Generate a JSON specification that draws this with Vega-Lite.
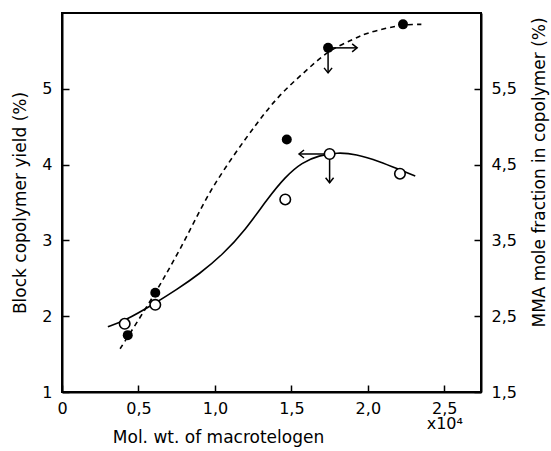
{
  "$schema": "https://vega.github.io/schema/vega-lite/v6.json",
  "width": 419,
  "height": 379,
  "autosize": {"type": "none"},
  "padding": {"left": 62, "top": 13, "right": 70, "bottom": 59},
  "background": "white",
  "config": {
    "view": {"stroke": "black", "strokeWidth": 2},
    "font": "DejaVu Sans",
    "axis": {
      "grid": false,
      "domainColor": "black",
      "domainWidth": 2,
      "tickColor": "black",
      "tickWidth": 1.5,
      "tickSize": -7,
      "labelColor": "black",
      "labelFontSize": 16,
      "labelFlush": false,
      "labelOverlap": false,
      "titleColor": "black",
      "titleFontSize": 17,
      "titleFontWeight": "normal"
    }
  },
  "datasets": {
    "yield_pts": [
      {"mw": 0.41, "yield": 1.9},
      {"mw": 0.61, "yield": 2.15},
      {"mw": 1.46, "yield": 3.54},
      {"mw": 1.75, "yield": 4.14},
      {"mw": 2.21, "yield": 3.88}
    ],
    "yield_curve": [
      {"mw": 0.3, "yield": 1.86},
      {"mw": 0.41, "yield": 1.94},
      {"mw": 0.6, "yield": 2.16},
      {"mw": 0.75, "yield": 2.35},
      {"mw": 0.9, "yield": 2.56},
      {"mw": 1.05, "yield": 2.81},
      {"mw": 1.2, "yield": 3.14},
      {"mw": 1.34, "yield": 3.54},
      {"mw": 1.46, "yield": 3.84},
      {"mw": 1.57, "yield": 4.03},
      {"mw": 1.68, "yield": 4.12},
      {"mw": 1.8, "yield": 4.16},
      {"mw": 1.92, "yield": 4.14},
      {"mw": 2.08, "yield": 4.04},
      {"mw": 2.21, "yield": 3.93},
      {"mw": 2.31, "yield": 3.85}
    ],
    "yield_arrows": [
      {"mw": 1.75, "yield": 4.14, "mw2": 1.55, "yield2": 4.14, "dir": "left"},
      {"mw": 1.75, "yield": 4.14, "mw2": 1.75, "yield2": 3.76, "dir": "down"}
    ],
    "mma_pts": [
      {"mw": 0.43, "mma": 2.25},
      {"mw": 0.61, "mma": 2.81},
      {"mw": 1.47, "mma": 4.83},
      {"mw": 1.74, "mma": 6.04},
      {"mw": 2.23, "mma": 6.35}
    ],
    "mma_curve": [
      {"mw": 0.38, "mma": 2.07},
      {"mw": 0.61, "mma": 2.81},
      {"mw": 0.77, "mma": 3.38},
      {"mw": 0.99, "mma": 4.21},
      {"mw": 1.27, "mma": 5.03},
      {"mw": 1.42, "mma": 5.4},
      {"mw": 1.58, "mma": 5.71},
      {"mw": 1.74, "mma": 5.98},
      {"mw": 1.9, "mma": 6.15},
      {"mw": 2.01, "mma": 6.24},
      {"mw": 2.23, "mma": 6.34},
      {"mw": 2.35, "mma": 6.35}
    ],
    "mma_arrows": [
      {"mw": 1.74, "mma": 6.04, "mw2": 1.93, "mma2": 6.04, "dir": "right"},
      {"mw": 1.74, "mma": 6.04, "mw2": 1.74, "mma2": 5.71, "dir": "down"}
    ]
  },
  "layer": [
    {
      "layer": [
        {
          "data": {"name": "yield_curve"},
          "mark": {"type": "line", "interpolate": "basis", "color": "black", "strokeWidth": 1.6},
          "encoding": {
            "x": {
              "field": "mw", "type": "quantitative",
              "scale": {"domain": [0, 2.74], "nice": false, "zero": false},
              "axis": {
                "title": "Mol. wt. of macrotelogen",
                "values": [0, 0.5, 1, 1.5, 2, 2.5],
                "labelPadding": 15,
                "labelLineHeight": 15,
                "labelExpr": "datum.value == 0 ? '0' : (datum.value == 2.5 ? ['2,5', 'x10⁴'] : replace(format(datum.value, '.1f'), '.', ','))",
                "titleX": 156,
                "titleY": 45,
                "titleBaseline": "middle"
              }
            },
            "y": {
              "field": "yield", "type": "quantitative",
              "scale": {"domain": [1, 6], "nice": false, "zero": false},
              "axis": {
                "orient": "left",
                "title": "Block copolymer yield (%)",
                "values": [1, 2, 3, 4, 5],
                "format": "d",
                "labelPadding": 17,
                "titlePadding": 12
              }
            }
          }
        },
        {
          "data": {"name": "yield_arrows"},
          "mark": {"type": "rule", "color": "black", "strokeWidth": 1.5},
          "encoding": {
            "x": {"field": "mw", "type": "quantitative", "scale": {"domain": [0, 2.74], "nice": false, "zero": false}},
            "x2": {"field": "mw2"},
            "y": {"field": "yield", "type": "quantitative", "scale": {"domain": [1, 6], "nice": false, "zero": false}},
            "y2": {"field": "yield2"}
          }
        },
        {
          "data": {"name": "yield_arrows"},
          "mark": {"type": "point", "filled": false, "stroke": "black", "strokeWidth": 1.5, "size": 100, "opacity": 1},
          "encoding": {
            "x": {"field": "mw2", "type": "quantitative", "scale": {"domain": [0, 2.74], "nice": false, "zero": false}},
            "y": {"field": "yield2", "type": "quantitative", "scale": {"domain": [1, 6], "nice": false, "zero": false}},
            "shape": {
              "field": "dir", "type": "nominal", "legend": null,
              "scale": {"domain": ["right", "down", "left"], "range": ["M-1,-0.8L0,0L-1,0.8", "M-0.8,-1L0,0L0.8,-1", "M1,-0.8L0,0L1,0.8"]}
            }
          }
        },
        {
          "data": {"name": "yield_pts"},
          "mark": {"type": "point", "shape": "circle", "filled": true, "fill": "white", "stroke": "black", "strokeWidth": 1.6, "size": 110, "opacity": 1},
          "encoding": {
            "x": {"field": "mw", "type": "quantitative", "scale": {"domain": [0, 2.74], "nice": false, "zero": false}},
            "y": {"field": "yield", "type": "quantitative", "scale": {"domain": [1, 6], "nice": false, "zero": false}}
          }
        }
      ]
    },
    {
      "layer": [
        {
          "data": {"name": "mma_curve"},
          "mark": {"type": "line", "interpolate": "catmull-rom", "color": "black", "strokeWidth": 1.6, "strokeDash": [5, 4]},
          "encoding": {
            "x": {"field": "mw", "type": "quantitative", "scale": {"domain": [0, 2.74], "nice": false, "zero": false}},
            "y": {
              "field": "mma", "type": "quantitative",
              "scale": {"domain": [1.5, 6.5], "nice": false, "zero": false},
              "axis": {
                "orient": "right",
                "title": "MMA mole fraction in copolymer (%)",
                "values": [1.5, 2.5, 3.5, 4.5, 5.5],
                "labelExpr": "replace(format(datum.value, '.1f'), '.', ',')",
                "labelPadding": 17,
                "titleAngle": -90,
                "titlePadding": 32,
                "titleY": 159
              }
            }
          }
        },
        {
          "data": {"name": "mma_arrows"},
          "mark": {"type": "rule", "color": "black", "strokeWidth": 1.5},
          "encoding": {
            "x": {"field": "mw", "type": "quantitative", "scale": {"domain": [0, 2.74], "nice": false, "zero": false}},
            "x2": {"field": "mw2"},
            "y": {"field": "mma", "type": "quantitative", "scale": {"domain": [1.5, 6.5], "nice": false, "zero": false}},
            "y2": {"field": "mma2"}
          }
        },
        {
          "data": {"name": "mma_arrows"},
          "mark": {"type": "point", "filled": false, "stroke": "black", "strokeWidth": 1.5, "size": 100, "opacity": 1},
          "encoding": {
            "x": {"field": "mw2", "type": "quantitative", "scale": {"domain": [0, 2.74], "nice": false, "zero": false}},
            "y": {"field": "mma2", "type": "quantitative", "scale": {"domain": [1.5, 6.5], "nice": false, "zero": false}},
            "shape": {
              "field": "dir", "type": "nominal", "legend": null,
              "scale": {"domain": ["right", "down", "left"], "range": ["M-1,-0.8L0,0L-1,0.8", "M-0.8,-1L0,0L0.8,-1", "M1,-0.8L0,0L1,0.8"]}
            }
          }
        },
        {
          "data": {"name": "mma_pts"},
          "mark": {"type": "point", "shape": "circle", "filled": true, "color": "black", "size": 100, "opacity": 1},
          "encoding": {
            "x": {"field": "mw", "type": "quantitative", "scale": {"domain": [0, 2.74], "nice": false, "zero": false}},
            "y": {"field": "mma", "type": "quantitative", "scale": {"domain": [1.5, 6.5], "nice": false, "zero": false}}
          }
        }
      ]
    }
  ],
  "resolve": {"scale": {"y": "independent", "shape": "independent"}}
}
